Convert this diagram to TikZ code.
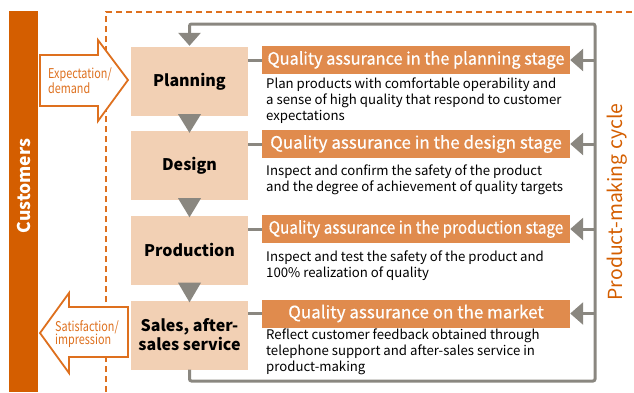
\documentclass[tikz,border=0pt]{standalone}
\usepackage{graphicx}
\usepackage{fontspec}
\setmainfont{Noto Sans CJK JP}
\newfontfamily\semibold[FakeBold=0.6]{Noto Sans CJK JP}
\usetikzlibrary{arrows.meta, positioning, calc}
\definecolor{cBar}{RGB}{212,94,0}
\definecolor{cLine}{RGB}{222,112,30}
\definecolor{cHead}{RGB}{224,139,77}
\definecolor{cPeach}{RGB}{242,208,180}
\definecolor{cGray}{RGB}{138,135,128}
\newcommand{\squeeze}[2]{\scalebox{#1}[1]{#2}}
\tikzset{
	stage/.style    ={rectangle, fill=cPeach, minimum width=117pt, minimum height=69pt, align=center, inner sep=1pt, font=\bfseries\fontsize{16}{19}\selectfont},
	qahead/.style   ={rectangle, fill=cHead, text=white, minimum width=308pt, minimum height=28pt, inner sep=0pt, font=\semibold\fontsize{17}{19}\selectfont},
	qatext/.style   ={anchor=north west, align=left, inner sep=0pt, font=\fontsize{13.2}{16}\selectfont},
	sidetext/.style ={anchor=west, align=left, inner sep=0pt, text=cLine, font=\fontsize{13.5}{13.5}\selectfont},
	cyc/.style      ={line width=3pt, cGray, rounded corners=2pt},
	cycarrow/.style ={cyc, -{Triangle[length=13pt, width=22pt]}},
	blockarrow/.style={draw=cLine, line width=1.8pt, fill=white, line join=miter},
}
\begin{document}
\begin{tikzpicture}[x=1pt, y=-1pt]
	\useasboundingbox (0,0) rectangle (634,392);
	% customers bar
	\fill[cBar] (9,11) rectangle (38,392);
	\node[rotate=90, text=white, font=\bfseries\fontsize{17.5}{20}\selectfont] (cust) at (24,186) {Customers};
	% dashed frame
	\draw[cLine, line width=1.5pt, dash pattern=on 6pt off 4pt] (106,392) -- (106,12) -- (634,12);
	% block arrows
	\draw[blockarrow] (40,55) -- (98,55) -- (98,40) -- (128,80) -- (98,121) -- (98,106) -- (40,106) -- cycle;
	\node[sidetext] (expect) at (48,81) {\squeeze{0.8}{Expectation/}\\\squeeze{0.8}{demand}};
	\draw[blockarrow] (128,307) -- (69,307) -- (69,293) -- (40,333) -- (69,373) -- (69,357) -- (128,357) -- cycle;
	\node[sidetext] (satis) at (55,334) {\squeeze{0.8}{Satisfaction/}\\\squeeze{0.8}{impression}};
	% stages
	\node[stage] (plan)   at (189.5,81.5)  {Planning};
	\node[stage] (design) at (189.5,165.5) {Design};
	\node[stage] (prod)   at (189.5,250)   {Production};
	\node[stage] (sales)  at (189.5,335)   {Sales, after-\\sales service};
	% steps between stages
	\foreach \a/\b in {plan/design, design/prod, prod/sales}
		\fill[cGray] ($(\a.south)+(-11.5,-2)$) -- ($(\a.south)+(11.5,-2)$) -- ($(\b.north)+(0,2)$) -- cycle;
	% quality assurance headers
	\node[qahead] (qa1) at (416,60)    {\squeeze{0.96}{Quality assurance in the planning stage}};
	\node[qahead] (qa2) at (416,144)   {Quality assurance in the design stage};
	\node[qahead] (qa3) at (416,229)   {\squeeze{0.9}{Quality assurance in the production stage}};
	\node[qahead] (qa4) at (416,313.5) {Quality assurance on the market};
	\node[qatext] (txt1) at (266,78)  {Plan products with comfortable operability and\\a sense of high quality that respond to customer\\expectations};
	\node[qatext] (txt2) at (266,165) {Inspect and confirm the safety of the product\\and the degree of achievement of quality targets};
	\node[qatext] (txt3) at (266,251) {Inspect and test the safety of the product and\\100\% realization of quality};
	\node[qatext] (txt4) at (266,329) {Reflect customer feedback obtained through\\telephone support and after-sales service in\\product-making};
	% cycle
	\coordinate (loopBR) at (595,381);
	\coordinate (loopTR) at (595,24);
	\draw[cycarrow] (sales.south) |- (loopBR) -- (loopTR) -| ($(plan.north)+(0,-1)$);
	\foreach \s/\q in {plan/qa1, design/qa2, prod/qa3, sales/qa4} {
		\draw[cyc] (\q.west) -- (\q.west -| \s.east);
		\draw[cycarrow] (loopTR |- \q.east) -- (\q.east);
	}
	\node[rotate=90, text=cBar, font=\fontsize{19.4}{22}\selectfont] (cycle) at (617,202) {Product-making cycle};
\end{tikzpicture}
\end{document}
